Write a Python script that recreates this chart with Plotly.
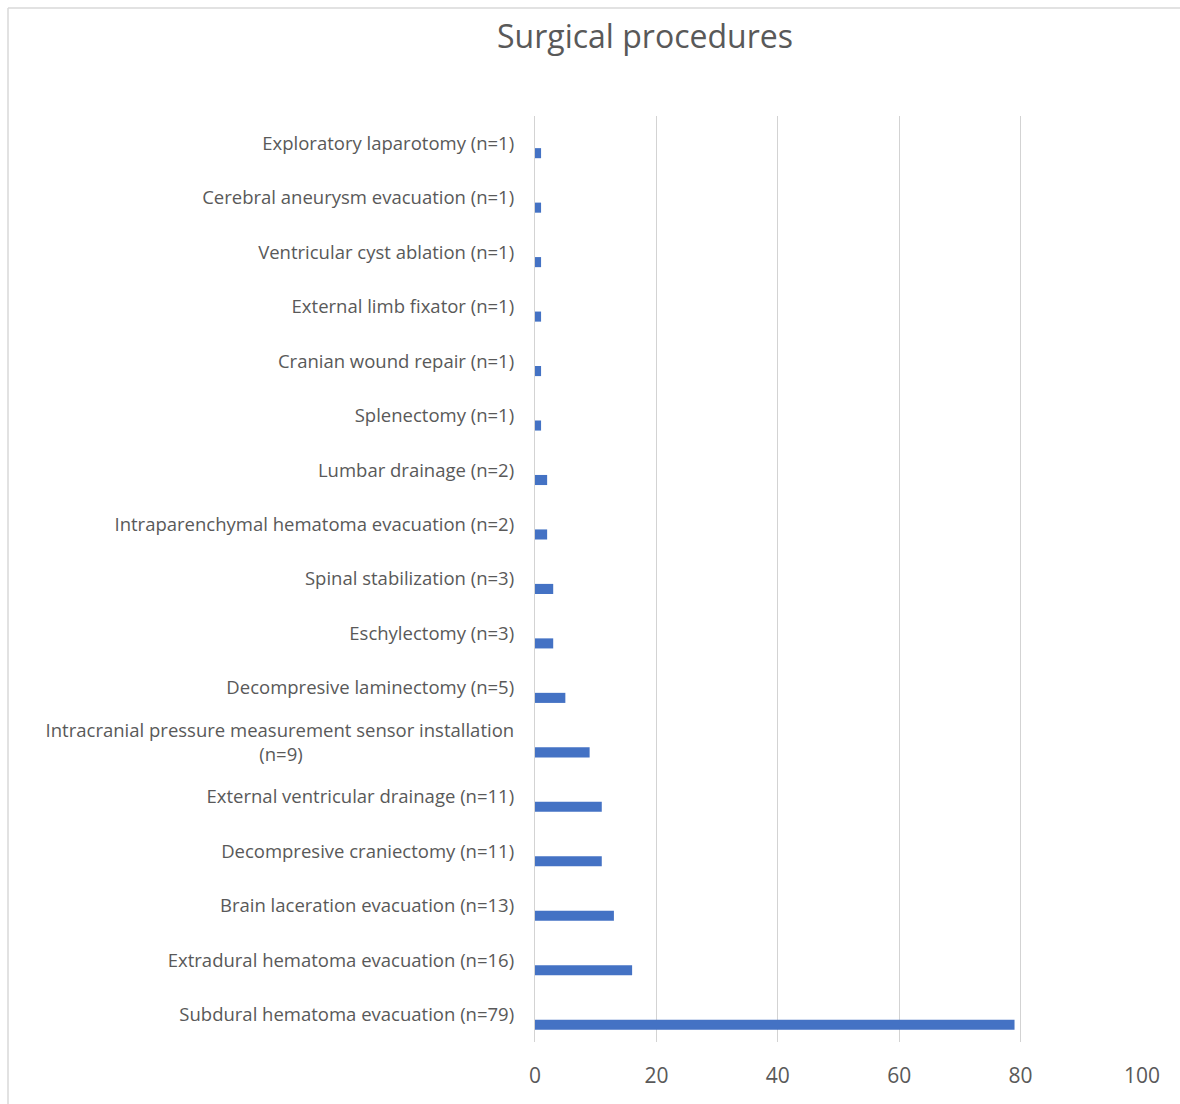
import plotly.graph_objects as go

# Data (listed top-to-bottom as in the chart)
NB = "&nbsp;"
procedures = [
    "Exploratory laparotomy (n=1)",
    "Cerebral aneurysm evacuation (n=1)",
    "Ventricular cyst ablation (n=1)",
    "External limb fixator (n=1)",
    "Cranian wound repair (n=1)",
    "Splenectomy (n=1)",
    "Lumbar drainage (n=2)",
    "Intraparenchymal hematoma evacuation (n=2)",
    "Spinal stabilization (n=3)",
    "Eschylectomy (n=3)",
    "Decompresive laminectomy (n=5)",
    "Intracranial pressure measurement sensor installation<br>(n=9)" + NB * 44,
    "External ventricular drainage (n=11)",
    "Decompresive craniectomy (n=11)",
    "Brain laceration evacuation (n=13)",
    "Extradural hematoma evacuation (n=16)",
    "Subdural hematoma evacuation (n=79)",
]
counts = [1, 1, 1, 1, 1, 1, 2, 2, 3, 3, 5, 9, 11, 11, 13, 16, 79]
x_ticks = [0, 20, 40, 60, 80, 100]

# plotly category axes go bottom-to-top
cats = procedures[::-1]
vals = counts[::-1]

W, H = 1180, 1104
L, R, T, B = 535, 38, 116, 62
pw, ph = W - L - R, H - T - B

def px(x):
    return (x - L) / pw

def py(y):
    return (H - B - y) / ph

TXT = "#595959"
GRID = "#D9D9D9"
FONT = "Open Sans"

fig = go.Figure(
    go.Bar(
        y=cats,
        x=vals,
        orientation="h",
        marker=dict(color="#4472C4", line=dict(width=0)),
        width=0.185,
        offset=-0.275,
        hoverinfo="x+y",
    )
)

fig.update_layout(
    width=W,
    height=H,
    margin=dict(l=L, r=R, t=T, b=B, autoexpand=False),
    paper_bgcolor="white",
    plot_bgcolor="white",
    showlegend=False,
    title=dict(
        text="Surgical procedures",
        font=dict(family=FONT, size=32, color=TXT),
        x=645 / W,
        xanchor="center",
        y=1 - 37 / H,
        yanchor="middle",
        xref="container",
        yref="container",
    ),
    font=dict(family=FONT, color=TXT),
    shapes=[
        dict(type="line", xref="paper", yref="paper",
             x0=px(8), x1=px(1182), y0=py(8), y1=py(8),
             line=dict(color=GRID, width=1.5)),
        dict(type="line", xref="paper", yref="paper",
             x0=px(8), x1=px(8), y0=py(8), y1=py(1110),
             line=dict(color=GRID, width=1.5)),
    ],
)

fig.update_xaxes(
    range=[0, 100],
    tickvals=x_ticks,
    showgrid=True,
    gridcolor="#D3D3D3",
    gridwidth=1.3,
    zeroline=False,
    showline=False,
    ticks="",
    tickfont=dict(family=FONT, size=21, color=TXT),
    ticklabelstandoff=19,
    fixedrange=True,
)

fig.update_yaxes(
    type="category",
    categoryorder="array",
    categoryarray=cats,
    range=[-0.5, len(cats) - 0.5],
    showgrid=False,
    zeroline=False,
    showline=True,
    linecolor="#D3D3D3",
    linewidth=1.3,
    ticks="",
    tickfont=dict(family=FONT, size=18.5, color=TXT),
    ticklabelstandoff=16,
    fixedrange=True,
)

fig.write_html("out.html")
